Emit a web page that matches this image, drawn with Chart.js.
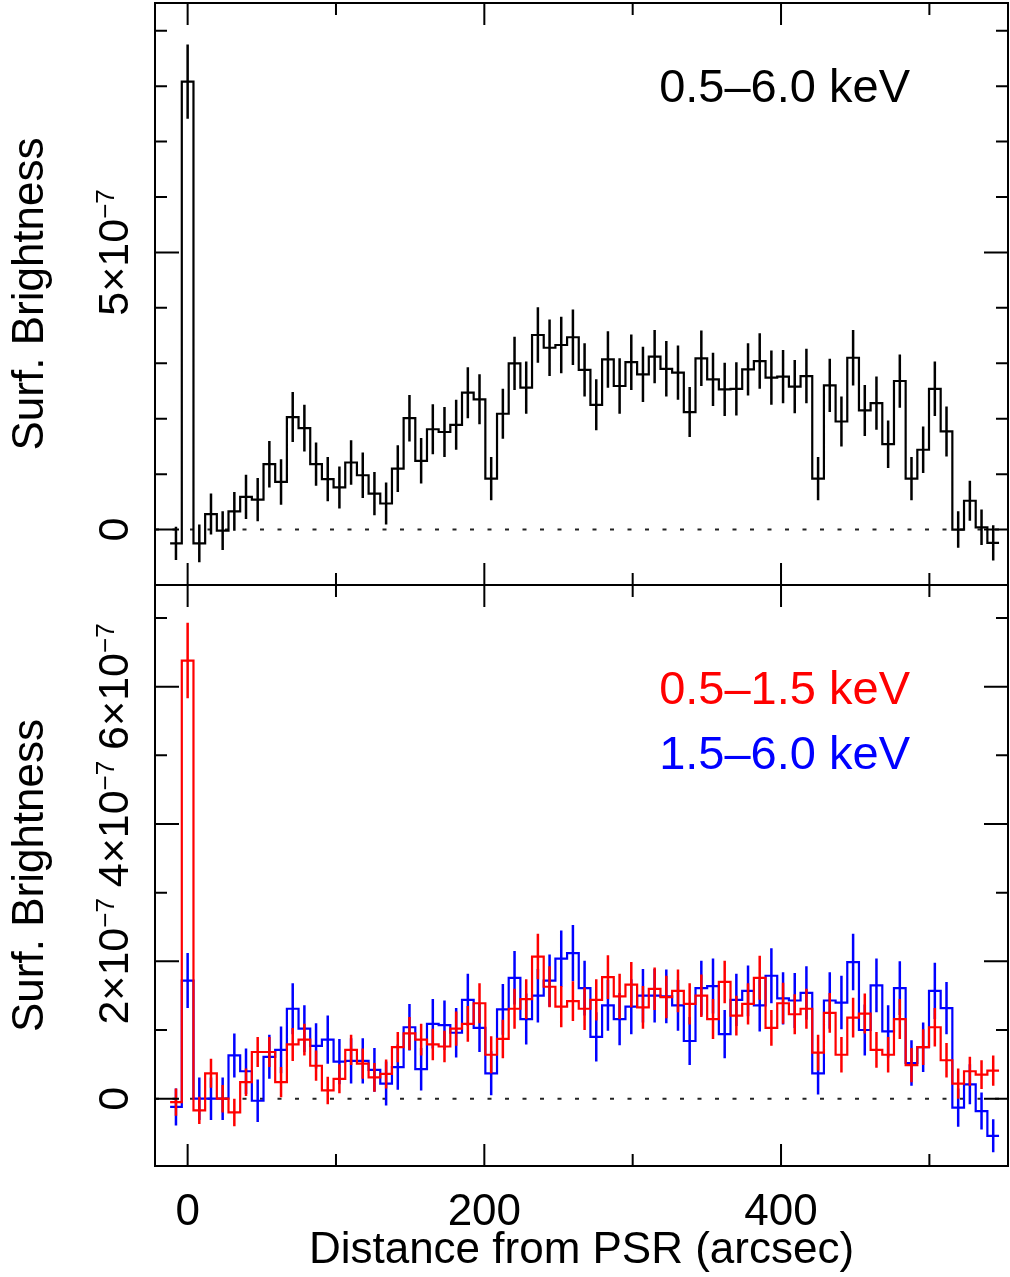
<!DOCTYPE html>
<html>
<head>
<meta charset="utf-8">
<script src="https://cdn.jsdelivr.net/npm/chart.js@4.4.1/dist/chart.umd.min.js"></script>
<style>
  html, body { margin: 0; padding: 0; background: #fff; width: 1010px; height: 1277px; overflow: hidden; }
  .panel { position: absolute; left: 0; width: 1010px; }
  #wrapTop { top: 0; height: 600px; }
  #wrapBottom { top: 580px; height: 697px; }
</style>
</head>
<body>
<div id="wrapTop" class="panel"><canvas id="cTop"></canvas></div>
<div id="wrapBottom" class="panel"><canvas id="cBottom"></canvas></div>
<script>
// ---------------- DATA (surface brightness in units of 1e-7) ----------------
const binCenters = [-7.87, 0, 7.87, 15.74, 23.61, 31.48, 39.35, 47.22, 55.09, 62.96,
  70.83, 78.70, 86.57, 94.44, 102.31, 110.18, 118.05, 125.92, 133.79, 141.66,
  149.53, 157.40, 165.27, 173.14, 181.01, 188.88, 196.75, 204.62, 212.49, 220.36,
  228.23, 236.10, 243.97, 251.84, 259.71, 267.58, 275.45, 283.32, 291.19, 299.06,
  306.93, 314.80, 322.67, 330.54, 338.41, 346.28, 354.15, 362.02, 369.89, 377.76,
  385.63, 393.50, 401.37, 409.24, 417.11, 424.98, 432.85, 440.72, 448.59, 456.46,
  464.33, 472.20, 480.07, 487.94, 495.81, 503.68, 511.55, 519.42, 527.29, 535.16, 543.03];

// 0.5-6.0 keV
const fullBand = [-0.25, 8.08, -0.25, 0.28, -0.02, 0.33, 0.59, 0.54, 1.18, 0.86,
  2.03, 1.83, 1.18, 0.91, 0.76, 1.21, 0.98, 0.65, 0.47, 1.10,
  2.01, 1.24, 1.81, 1.76, 1.89, 2.47, 2.35, 0.92, 2.09, 3.00,
  2.56, 3.51, 3.28, 3.33, 3.47, 2.88, 2.25, 3.07, 2.59, 3.02,
  2.80, 3.12, 2.90, 2.83, 2.12, 3.09, 2.71, 2.53, 2.54, 2.89,
  3.04, 2.74, 2.76, 2.58, 2.77, 0.92, 2.60, 1.95, 3.10, 2.15,
  2.28, 1.54, 2.68, 0.92, 1.44, 2.54, 1.77, 0.00, 0.52, 0.04, -0.24];
const fullBandErr = [0.30, 0.67, 0.34, 0.37, 0.35, 0.35, 0.40, 0.39, 0.42, 0.41,
  0.45, 0.42, 0.39, 0.40, 0.38, 0.40, 0.41, 0.39, 0.38, 0.42,
  0.42, 0.41, 0.45, 0.45, 0.45, 0.46, 0.45, 0.39, 0.45, 0.48,
  0.47, 0.50, 0.51, 0.51, 0.50, 0.48, 0.46, 0.51, 0.50, 0.50,
  0.50, 0.48, 0.50, 0.49, 0.45, 0.50, 0.48, 0.48, 0.48, 0.47,
  0.50, 0.49, 0.48, 0.48, 0.49, 0.39, 0.48, 0.45, 0.50, 0.46,
  0.48, 0.43, 0.48, 0.39, 0.42, 0.49, 0.45, 0.33, 0.36, 0.32, 0.32];

// 0.5-1.5 keV (red)
const softBand = [-0.05, 6.38, -0.17, 0.37, 0.00, -0.20, 0.24, 0.68, 0.68, 0.24,
  0.79, 0.86, 0.48, 0.12, 0.29, 0.71, 0.51, 0.31, 0.36, 0.75,
  0.95, 0.86, 0.79, 0.76, 1.02, 1.09, 1.39, 0.64, 0.87, 1.31,
  1.45, 2.07, 1.63, 1.34, 1.42, 1.31, 1.44, 1.77, 1.49, 1.66,
  1.33, 1.60, 1.48, 1.57, 1.38, 1.50, 1.16, 1.70, 1.21, 1.38,
  1.76, 1.03, 1.39, 1.23, 1.31, 0.67, 1.25, 0.64, 1.18, 1.24,
  0.71, 0.64, 1.16, 0.49, 0.75, 1.04, 0.56, 0.22, 0.40, 0.35, 0.41];
const softBandErr = [0.20, 0.55, 0.20, 0.21, 0.20, 0.20, 0.20, 0.22, 0.22, 0.22,
  0.24, 0.23, 0.22, 0.20, 0.21, 0.22, 0.22, 0.21, 0.21, 0.22,
  0.24, 0.23, 0.23, 0.23, 0.25, 0.26, 0.29, 0.27, 0.28, 0.29,
  0.29, 0.33, 0.30, 0.30, 0.29, 0.31, 0.30, 0.32, 0.33, 0.33,
  0.31, 0.31, 0.31, 0.31, 0.30, 0.31, 0.29, 0.31, 0.29, 0.30,
  0.32, 0.26, 0.30, 0.29, 0.29, 0.26, 0.29, 0.26, 0.29, 0.29,
  0.26, 0.26, 0.29, 0.25, 0.26, 0.28, 0.25, 0.22, 0.21, 0.21, 0.22];

// 1.5-6.0 keV (blue)
const hardBand = [-0.12, 1.72, 0.00, 0.00, 0.00, 0.63, 0.40, -0.03, 0.61, 0.71,
  1.31, 1.02, 0.77, 0.86, 0.54, 0.55, 0.55, 0.42, 0.22, 0.46,
  1.04, 0.43, 1.09, 1.07, 0.96, 1.44, 1.03, 0.37, 1.30, 1.76,
  1.16, 1.50, 1.72, 2.04, 2.12, 1.61, 0.90, 1.36, 1.16, 1.34,
  1.50, 1.50, 1.49, 1.36, 0.84, 1.61, 1.64, 0.94, 1.44, 1.57,
  1.36, 1.79, 1.46, 1.43, 1.54, 0.37, 1.43, 1.40, 1.99, 1.00,
  1.65, 0.98, 1.61, 0.52, 0.75, 1.57, 1.32, -0.13, 0.21, -0.18, -0.54];
const hardBandErr = [0.27, 0.40, 0.31, 0.31, 0.31, 0.32, 0.33, 0.31, 0.32, 0.34,
  0.37, 0.34, 0.33, 0.35, 0.33, 0.33, 0.33, 0.32, 0.32, 0.33,
  0.34, 0.31, 0.36, 0.36, 0.36, 0.38, 0.35, 0.32, 0.37, 0.39,
  0.37, 0.39, 0.38, 0.41, 0.41, 0.40, 0.36, 0.37, 0.38, 0.40,
  0.39, 0.39, 0.39, 0.37, 0.35, 0.40, 0.40, 0.35, 0.38, 0.37,
  0.38, 0.40, 0.38, 0.40, 0.39, 0.31, 0.41, 0.39, 0.41, 0.37,
  0.39, 0.38, 0.39, 0.33, 0.36, 0.41, 0.38, 0.28, 0.29, 0.27, 0.24];

// ticks and labels
const xTickValues = [0, 100, 200, 300, 400, 500];
const xLabelledTicks = [0, 200, 400];
const xTickLabels = ['0', '200', '400'];
const topYTickValues = [0, 5];
const topYTickLabels = [['0', ''], ['5×10', '−7']];
const bottomYTickValues = [0, 2, 4, 6];
const bottomYTickLabels = [['0', ''], ['2×10', '−7'], ['4×10', '−7'], ['6×10', '−7']];
const bandLabels = ['0.5–6.0 keV', '0.5–1.5 keV', '1.5–6.0 keV'];
const xTitle = 'Distance from PSR (arcsec)';
const yTitle = 'Surf. Brightness';

// ---------------- helpers ----------------
const FONT = '"Liberation Sans", Arial, Helvetica, sans-serif';

function binEdgeLeft(i) {
  if (i === 0) return binCenters[0] - (binCenters[1] - binCenters[0]) / 2;
  return (binCenters[i - 1] + binCenters[i]) / 2;
}
function binEdgeRight(i) {
  const n = binCenters.length;
  if (i === n - 1) return binCenters[n - 1] + (binCenters[n - 1] - binCenters[n - 2]) / 2;
  return (binCenters[i] + binCenters[i + 1]) / 2;
}
function stepPoints(vals) {
  const pts = vals.map((v, i) => ({ x: binEdgeLeft(i), y: v }));
  const last = vals.length - 1;
  pts.push({ x: binEdgeRight(last), y: vals[last] });
  return pts;
}

// ---------------- plugins ----------------
const zeroLinePlugin = {
  id: 'zeroLine',
  beforeDatasetsDraw(chart) {
    const { ctx, chartArea: a, scales: { y } } = chart;
    const py = y.getPixelForValue(0);
    ctx.save();
    ctx.strokeStyle = '#222';
    ctx.lineWidth = 2;
    ctx.setLineDash([4, 13.5]);
    ctx.beginPath();
    ctx.moveTo(a.left, py);
    ctx.lineTo(a.right, py);
    ctx.stroke();
    ctx.restore();
  }
};

const errorBarPlugin = {
  id: 'errorBars',
  afterDatasetDraw(chart, args) {
    const ds = chart.data.datasets[args.index];
    if (!ds.errValues) return;
    const { ctx, chartArea: a, scales: { x, y } } = chart;
    ctx.save();
    ctx.beginPath();
    ctx.rect(a.left, a.top, a.right - a.left, a.bottom - a.top);
    ctx.clip();
    ctx.strokeStyle = ds.borderColor;
    ctx.lineWidth = 2.5;
    ctx.beginPath();
    ds.errValues.forEach((v, i) => {
      const px = x.getPixelForValue(binCenters[i]);
      ctx.moveTo(px, y.getPixelForValue(v - ds.errSizes[i]));
      ctx.lineTo(px, y.getPixelForValue(v + ds.errSizes[i]));
    });
    ctx.stroke();
    ctx.restore();
  }
};

const framePlugin = {
  id: 'frame',
  afterDraw(chart, args, opts) {
    const { ctx, chartArea: a, scales: { x, y } } = chart;
    ctx.save();
    ctx.strokeStyle = '#000';
    ctx.lineWidth = 2;
    ctx.strokeRect(a.left, a.top, a.right - a.left, a.bottom - a.top);
    ctx.beginPath();
    // x ticks (inward, top and bottom)
    x.ticks.forEach(t => {
      const v = t.value;
      const major = xLabelledTicks.includes(v);
      const len = major ? 22 : 12;
      const px = x.getPixelForValue(v);
      ctx.moveTo(px, a.top); ctx.lineTo(px, a.top + len);
      ctx.moveTo(px, a.bottom); ctx.lineTo(px, a.bottom - len);
    });
    // y ticks (inward, left and right)
    y.ticks.forEach(t => {
      const v = t.value;
      const major = Math.abs(v / opts.yMajor - Math.round(v / opts.yMajor)) < 1e-6;
      const len = major ? 24 : 12;
      const py = y.getPixelForValue(v);
      ctx.moveTo(a.left, py); ctx.lineTo(a.left + len, py);
      ctx.moveTo(a.right, py); ctx.lineTo(a.right - len, py);
    });
    ctx.stroke();

    // rotated y tick labels with superscript exponent
    ctx.fillStyle = '#000';
    ctx.textBaseline = 'alphabetic';
    ctx.textAlign = 'left';
    opts.tickValues.forEach((v, i) => {
      const [base, sup] = opts.tickLabels[i];
      const py = y.getPixelForValue(v);
      ctx.font = '43px ' + FONT;
      const wb = ctx.measureText(base).width;
      ctx.font = '26px ' + FONT;
      const ws = sup ? ctx.measureText(sup).width : 0;
      const total = wb + ws;
      ctx.save();
      ctx.translate(128, py);
      ctx.rotate(-Math.PI / 2);
      ctx.font = '43px ' + FONT;
      ctx.fillText(base, -total / 2, 0);
      if (sup) {
        ctx.font = '26px ' + FONT;
        ctx.fillText(sup, -total / 2 + wb, -14);
      }
      ctx.restore();
    });

    // band annotations
    ctx.textAlign = 'right';
    ctx.font = '47px ' + FONT;
    opts.notes.forEach(n => {
      ctx.fillStyle = n.color;
      ctx.fillText(n.text, a.right - 98, a.top + n.dy);
    });
    ctx.restore();
  }
};

function commonScales(yMin, yMax, showX) {
  return {
    x: {
      type: 'linear', min: -22, max: 553,
      grid: { display: false, drawTicks: false },
      border: { display: false },
      afterBuildTicks: (s) => { s.ticks = xTickValues.map(v => ({ value: v })); },
      ticks: {
        display: showX, padding: 20, autoSkip: false, maxRotation: 0, minRotation: 0,
        color: '#000', font: { family: FONT, size: 44 },
        callback: (v) => {
          const idx = xLabelledTicks.indexOf(v);
          return idx >= 0 ? xTickLabels[idx] : '';
        }
      },
      title: {
        display: showX, text: xTitle, color: '#000',
        font: { family: FONT, size: 44 }, padding: { top: 0, bottom: 0 }
      },
      afterFit: (s) => { s.height = showX ? 111 : 0; }
    },
    y: {
      type: 'linear', min: yMin, max: yMax,
      grid: { display: false, drawTicks: false },
      border: { display: false },
      afterBuildTicks: (s) => {
        const t = [];
        for (let v = Math.ceil(yMin); v <= Math.floor(yMax); v++) t.push({ value: v });
        s.ticks = t;
      },
      ticks: { display: false },
      title: {
        display: true, text: yTitle, color: '#000',
        font: { family: FONT, size: 44 }, padding: { top: 4, bottom: 0 }
      },
      afterFit: (s) => { s.width = 155; }
    }
  };
}

Chart.register(zeroLinePlugin, errorBarPlugin, framePlugin);

new Chart(document.getElementById('cTop'), {
  type: 'line',
  data: {
    datasets: [{
      label: bandLabels[0],
      data: stepPoints(fullBand),
      errValues: fullBand, errSizes: fullBandErr,
      stepped: 'before', borderColor: '#000', borderWidth: 2.2, pointRadius: 0, fill: false
    }]
  },
  options: {
    responsive: true, maintainAspectRatio: false, animation: false,
    layout: { autoPadding: false, padding: { top: 3, right: 2, bottom: 15, left: 0 } },
    plugins: {
      legend: { display: false }, tooltip: { enabled: false },
      frame: {
        yMajor: 5, tickValues: topYTickValues, tickLabels: topYTickLabels,
        notes: [{ text: bandLabels[0], color: '#000', dy: 99 }]
      }
    },
    scales: commonScales(-1.0, 9.5, false)
  }
});

new Chart(document.getElementById('cBottom'), {
  type: 'line',
  data: {
    datasets: [{
      label: bandLabels[1],
      data: stepPoints(softBand),
      errValues: softBand, errSizes: softBandErr,
      stepped: 'before', borderColor: '#ff0000', borderWidth: 2.2, pointRadius: 0, fill: false
    }, {
      label: bandLabels[2],
      data: stepPoints(hardBand),
      errValues: hardBand, errSizes: hardBandErr,
      stepped: 'before', borderColor: '#0000ff', borderWidth: 2.2, pointRadius: 0, fill: false
    }]
  },
  options: {
    responsive: true, maintainAspectRatio: false, animation: false,
    layout: { autoPadding: false, padding: { top: 5, right: 2, bottom: 0, left: 0 } },
    plugins: {
      legend: { display: false }, tooltip: { enabled: false },
      frame: {
        yMajor: 2, tickValues: bottomYTickValues, tickLabels: bottomYTickLabels,
        notes: [{ text: bandLabels[1], color: '#ff0000', dy: 119 },
                { text: bandLabels[2], color: '#0000ff', dy: 184 }]
      }
    },
    scales: commonScales(-0.98, 7.48, true)
  }
});
</script>
</body>
</html>
